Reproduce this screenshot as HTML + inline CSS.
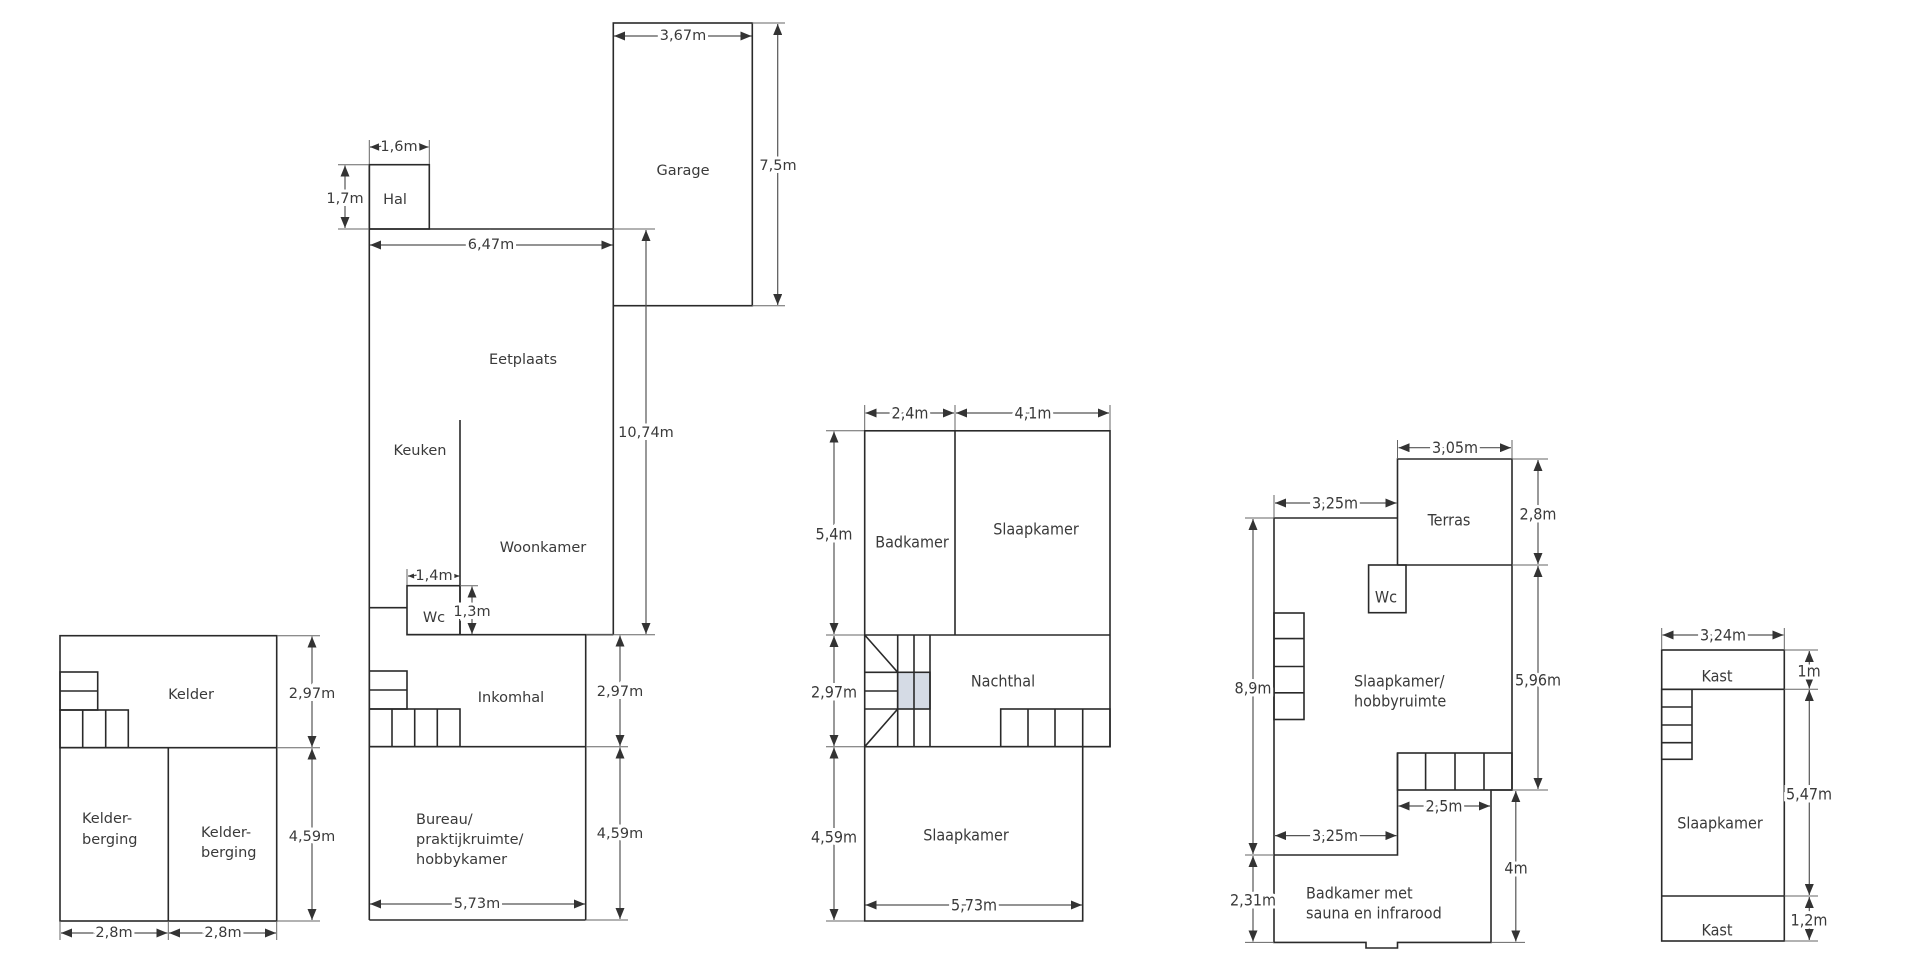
<!DOCTYPE html>
<html><head><meta charset="utf-8"><style>
html,body{margin:0;padding:0;background:#fff;}
svg{display:block;}
.w{stroke:#2a2a2a;stroke-width:1.6;fill:none;}
.d{stroke:#555;stroke-width:1.2;fill:none;marker-start:url(#a);marker-end:url(#a);}
.e{stroke:#666;stroke-width:1;fill:none;}
text{font-family:"DejaVu Sans","Liberation Sans",sans-serif;font-size:14.5px;fill:#3a3a3a;text-anchor:middle;dominant-baseline:central;}
.c{font-family:"DejaVu Sans Condensed","DejaVu Sans","Liberation Sans",sans-serif;font-stretch:condensed;font-size:16px;}
.l{text-anchor:start;}
.m{paint-order:stroke;stroke:#fff;stroke-width:6px;}
</style></head><body>
<svg width="1920" height="968" viewBox="0 0 1920 968" xmlns="http://www.w3.org/2000/svg">
<defs><marker id="a" markerUnits="userSpaceOnUse" markerWidth="12" markerHeight="9" refX="11" refY="4.5" orient="auto-start-reverse"><path d="M0,0 L11,4.5 L0,9 z" fill="#333"/></marker></defs>

<!-- Plan 1 -->
<rect class="w" x="60" y="635.7" width="216.7" height="285.3"/>
<line class="w" x1="60" y1="747.7" x2="276.7" y2="747.7"/>
<line class="w" x1="168.3" y1="747.7" x2="168.3" y2="921"/>
<rect class="w" x="60" y="672" width="37.7" height="38"/>
<line class="w" x1="60" y1="691" x2="97.7" y2="691"/>
<rect class="w" x="60" y="710" width="68.3" height="37.7"/>
<line class="w" x1="82.7" y1="710" x2="82.7" y2="747.7"/>
<line class="w" x1="105.7" y1="710" x2="105.7" y2="747.7"/>
<path class="e" d="M277,635.7H320M277,747.7H320M277,921H320M60,921V940M168.3,921V940M276.7,921V940"/>
<line class="d" x1="312" y1="636.5" x2="312" y2="747"/>
<line class="d" x1="312" y1="748.5" x2="312" y2="920"/>
<line class="d" x1="61" y1="933" x2="167.5" y2="933"/>
<line class="d" x1="169" y1="933" x2="276" y2="933"/>
<text class="m" x="312" y="694">2,97m</text>
<text class="m" x="312" y="837">4,59m</text>
<text class="m" x="114" y="933">2,8m</text>
<text class="m" x="223" y="933">2,8m</text>
<text x="191" y="695">Kelder</text>
<text class="l" x="82" y="819">Kelder-</text><text class="l" x="82" y="840">berging</text>
<text class="l" x="201" y="833">Kelder-</text><text class="l" x="201" y="853">berging</text>

<!-- Plan 2 -->
<rect class="w" x="369.3" y="164.7" width="60" height="64.3"/>
<line class="w" x1="369.3" y1="229" x2="613.3" y2="229"/>
<line class="w" x1="369.3" y1="164.7" x2="369.3" y2="920"/>
<rect class="w" x="613.3" y="23" width="139" height="282.7"/>
<line class="w" x1="613.3" y1="305.7" x2="613.3" y2="634.7"/>
<line class="w" x1="407" y1="634.7" x2="613.3" y2="634.7"/>
<rect class="w" x="407" y="585.7" width="53" height="49"/>
<line class="w" x1="369.3" y1="607.7" x2="407" y2="607.7"/>
<line class="w" x1="460" y1="420" x2="460" y2="634.7"/>
<line class="w" x1="585.7" y1="634.7" x2="585.7" y2="920"/>
<line class="w" x1="369.3" y1="746.7" x2="585.7" y2="746.7"/>
<line class="w" x1="369.3" y1="920" x2="585.7" y2="920"/>
<rect class="w" x="369.3" y="671" width="37.7" height="38"/>
<line class="w" x1="369.3" y1="690" x2="407" y2="690"/>
<rect class="w" x="369.3" y="709" width="90.7" height="37.7"/>
<line class="w" x1="392" y1="709" x2="392" y2="746.7"/>
<line class="w" x1="414.7" y1="709" x2="414.7" y2="746.7"/>
<line class="w" x1="437.3" y1="709" x2="437.3" y2="746.7"/>
<path class="e" d="M369.3,140V164M429.3,140V164M338,164.7H369M338,229H369M752,23H785M752,305.7H785M613,229H655M613,634.7H655M407,569V585M460,585.7H478M586,634.7H628M586,746.7H628M586,920H628"/>
<line class="d" x1="370" y1="147" x2="428.5" y2="147"/>
<line class="d" x1="345" y1="165.5" x2="345" y2="228"/>
<line class="d" x1="370" y1="245" x2="612.5" y2="245"/>
<line class="d" x1="614" y1="36" x2="751.5" y2="36"/>
<line class="d" x1="777.7" y1="24" x2="777.7" y2="305"/>
<line class="d" x1="646" y1="230" x2="646" y2="634"/>
<line class="d" x1="408" y1="576" x2="459.5" y2="576"/>
<line class="d" x1="472" y1="586.5" x2="472" y2="634"/>
<line class="d" x1="620" y1="635.5" x2="620" y2="746"/>
<line class="d" x1="620" y1="747.5" x2="620" y2="919"/>
<line class="d" x1="370" y1="904" x2="585" y2="904"/>
<text class="m" x="399" y="147">1,6m</text>
<text class="m" x="345" y="199">1,7m</text>
<text class="m" x="491" y="245">6,47m</text>
<text class="m" x="683" y="36">3,67m</text>
<text class="m" x="778" y="166">7,5m</text>
<text class="m" x="646" y="433">10,74m</text>
<text class="m" x="434" y="576">1,4m</text>
<text class="m" x="472" y="612">1,3m</text>
<text class="m" x="620" y="692">2,97m</text>
<text class="m" x="620" y="834">4,59m</text>
<text class="m" x="477" y="904">5,73m</text>
<text x="395" y="200">Hal</text>
<text x="683" y="171">Garage</text>
<text x="523" y="360">Eetplaats</text>
<text x="420" y="451">Keuken</text>
<text x="543" y="548">Woonkamer</text>
<text x="434" y="618">Wc</text>
<text x="511" y="698">Inkomhal</text>
<text class="l" x="416" y="820">Bureau/</text>
<text class="l" x="416" y="840">praktijkruimte/</text>
<text class="l" x="416" y="860">hobbykamer</text>

<!-- Plan 3 -->
<rect class="w" x="864.7" y="430.8" width="245.3" height="315.9"/>
<line class="w" x1="955" y1="430.8" x2="955" y2="635"/>
<line class="w" x1="864.7" y1="635" x2="1110" y2="635"/>
<path class="w" d="M864.7,746.7V921H1082.7V746.7"/>
<rect x="897.7" y="672.3" width="32.3" height="36.7" fill="#d5dbe5" stroke="#2a2a2a" stroke-width="1.6"/>
<path class="w" d="M897.7,635V746.7M914,635V746.7M930,635V746.7M864.7,672.3H897.7M864.7,691H897.7M864.7,709H897.7M864.7,635L897.7,672.3M864.7,746.7L897.7,709"/>
<rect class="w" x="1000.7" y="709" width="109.3" height="37.7"/>
<path class="w" d="M1028,709V746.7M1055,709V746.7M1082.7,709V746.7"/>
<path class="e" d="M864.7,405V430M955,405V430M1110,405V430M826,430.8H864M826,635H864M826,746.7H864M826,921H864"/>
<line class="d" x1="865.5" y1="413" x2="954" y2="413"/>
<line class="d" x1="956" y1="413" x2="1109" y2="413"/>
<line class="d" x1="834" y1="431.5" x2="834" y2="634"/>
<line class="d" x1="834" y1="636" x2="834" y2="746"/>
<line class="d" x1="834" y1="747.5" x2="834" y2="920"/>
<line class="d" x1="865.5" y1="905" x2="1082" y2="905"/>
<text class="m c" x="910" y="413">2,4m</text>
<text class="m c" x="1033" y="413">4,1m</text>
<text class="m c" x="834" y="534">5,4m</text>
<text class="m c" x="834" y="692">2,97m</text>
<text class="m c" x="834" y="837">4,59m</text>
<text class="m c" x="974" y="905">5,73m</text>
<text class="c" x="912" y="542">Badkamer</text>
<text class="c" x="1036" y="529">Slaapkamer</text>
<text class="c" x="1003" y="681">Nachthal</text>
<text class="c" x="966" y="835">Slaapkamer</text>

<!-- Plan 4 -->
<path class="w" d="M1397.5,565V459H1512V790H1491V942.4H1397.5V948H1366V942.4H1274V518H1397.5"/>
<line class="w" x1="1397.5" y1="565" x2="1512" y2="565"/>
<path class="w" d="M1397.5,753V855H1274"/>
<rect class="w" x="1397.5" y="753" width="114.5" height="37"/>
<path class="w" d="M1425.6,753V790M1455,753V790M1484,753V790"/>
<rect class="w" x="1368.6" y="565" width="37.4" height="47.7"/>
<rect class="w" x="1274" y="613" width="30" height="106.5"/>
<path class="w" d="M1274,638.6H1304M1274,666.5H1304M1274,692.8H1304"/>
<path class="e" d="M1397.5,440V459M1512,440V459M1274,495V518M1512,459H1548M1512,565H1548M1512,790H1548M1245,518H1274M1245,855H1274M1245,942.4H1274M1491,942.4H1525"/>
<line class="d" x1="1398.5" y1="447.7" x2="1511" y2="447.7"/>
<line class="d" x1="1275" y1="503" x2="1396.5" y2="503"/>
<line class="d" x1="1538" y1="460" x2="1538" y2="564"/>
<line class="d" x1="1538" y1="566" x2="1538" y2="789"/>
<line class="d" x1="1253" y1="519" x2="1253" y2="854"/>
<line class="d" x1="1253" y1="856" x2="1253" y2="941.5"/>
<line class="d" x1="1398.5" y1="806" x2="1490" y2="806"/>
<line class="d" x1="1275" y1="835.6" x2="1396.5" y2="835.6"/>
<line class="d" x1="1515.8" y1="791" x2="1515.8" y2="941.5"/>
<text class="m c" x="1455" y="447.7">3,05m</text>
<text class="m c" x="1335" y="503">3,25m</text>
<text class="m c" x="1538" y="514">2,8m</text>
<text class="m c" x="1538" y="680">5,96m</text>
<text class="m c" x="1253" y="688">8,9m</text>
<text class="m c" x="1253" y="900">2,31m</text>
<text class="m c" x="1444" y="806">2,5m</text>
<text class="m c" x="1335" y="835.6">3,25m</text>
<text class="m c" x="1516" y="868">4m</text>
<text class="c" x="1449" y="520">Terras</text>
<text class="c" x="1386" y="597">Wc</text>
<text class="c l" x="1354" y="681">Slaapkamer/</text>
<text class="c l" x="1354" y="701">hobbyruimte</text>
<text class="c l" x="1306" y="893">Badkamer met</text>
<text class="c l" x="1306" y="913">sauna en infrarood</text>

<!-- Plan 5 -->
<rect class="w" x="1661.7" y="650" width="122.6" height="291"/>
<path class="w" d="M1661.7,689.3H1784.3M1661.7,896H1784.3"/>
<rect class="w" x="1661.7" y="689.3" width="30.3" height="70"/>
<path class="w" d="M1661.7,707H1692M1661.7,725H1692M1661.7,742.7H1692"/>
<path class="e" d="M1661.7,628V650M1784.3,628V650M1784.3,650H1818M1784.3,689.3H1818M1784.3,896H1818M1784.3,941H1818"/>
<line class="d" x1="1662.5" y1="635" x2="1783.5" y2="635"/>
<line class="d" x1="1809.3" y1="651" x2="1809.3" y2="688.5"/>
<line class="d" x1="1809.3" y1="690" x2="1809.3" y2="895"/>
<line class="d" x1="1809.3" y1="897" x2="1809.3" y2="940"/>
<text class="m c" x="1723" y="635">3,24m</text>
<text class="m c" x="1809" y="671">1m</text>
<text class="m c" x="1809" y="794">5,47m</text>
<text class="m c" x="1809" y="920">1,2m</text>
<text class="c" x="1717" y="676">Kast</text>
<text class="c" x="1720" y="823">Slaapkamer</text>
<text class="c" x="1717" y="930">Kast</text>
</svg>
</body></html>
